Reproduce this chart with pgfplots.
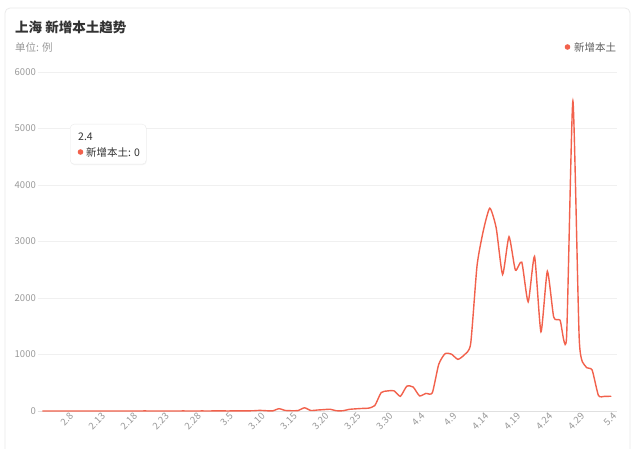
\documentclass[border=0pt]{standalone}
\usepackage{fontspec}
\setmainfont{Noto Sans CJK SC}
\usepackage{pgfplots}
\pgfplotsset{compat=1.18}
\usetikzlibrary{shadows}
\definecolor{linered}{HTML}{F2614C}
\definecolor{txtdark}{HTML}{333333}
\definecolor{txtgray}{HTML}{999999}
\definecolor{gridc}{HTML}{F0F0F0}
\definecolor{cardc}{HTML}{EBEBEB}
\pgfplotstableread{
i v
0 0
1 0
2 0
3 0
4 0
5 0
6 0
7 0
8 0
9 0
10 0
11 0
12 0
13 0
14 0
15 0
16 1
17 0
18 0
19 0
20 0
21 0
22 1
23 0
24 0
25 1
26 0
27 2
28 3
29 0
30 3
31 1
32 3
33 4
34 11
35 5
36 1
37 41
38 9
39 5
40 8
41 57
42 8
43 17
44 24
45 31
46 4
47 4
48 29
49 38
50 45
51 50
52 96
53 326
54 355
55 358
56 260
57 438
58 425
59 268
60 311
61 322
62 824
63 1015
64 1006
65 914
66 994
67 1189
68 2573
69 3200
70 3590
71 3238
72 2417
73 3084
74 2494
75 2634
76 1931
77 2736
78 1401
79 2472
80 1661
81 1606
82 1292
83 5487
84 1249
85 788
86 727
87 274
88 260
89 261
}\datatable
\begin{document}
\begin{tikzpicture}[x=1pt,y=1pt]
\useasboundingbox (0,0) rectangle (640,449);
\fill[white] (0,0) rectangle (640,449);
\begin{scope}
\clip (0,0) rectangle (640,449);
\draw[cardc, rounded corners=5pt, line width=0.8pt] (5,-20) rectangle (630,441);
\end{scope}
\node[anchor=west, inner sep=0pt, text=txtdark, font=\fontsize{13.5}{15}\selectfont\bfseries] at (15,422) {上海 新增本土趋势};
\node[anchor=west, inner sep=0pt, text=txtgray, font=\fontsize{10.5}{12}\selectfont] at (15,402) {单位: 例};
\fill[linered] (567.5,402) circle (2.8);
\node[anchor=west, inner sep=0pt, text=gray!75!black, font=\fontsize{10.5}{12}\selectfont] at (574,402) {新增本土};
\begin{axis}[
  at={(38pt,38pt)}, anchor=south west,
  scale only axis, width=579pt, height=339pt,
  xmin=-0.7, xmax=89.9, ymin=0, ymax=6000,
  axis x line*=bottom, axis y line*=left,
  x axis line style={draw=black!12},
  y axis line style={draw=none},
  ymajorgrids, grid style={gridc, line width=0.6pt},
  ytick={0,1000,...,6000},
  yticklabels={0,1000,2000,3000,4000,5000,6000},
  major tick length=0pt,
  yticklabel style={anchor=east, inner sep=0pt, xshift=-2pt, text=txtgray, font=\fontsize{9.5}{10}\selectfont},
  xtick={4,9,...,89},
  xticklabels={2.8,2.13,2.18,2.23,2.28,3.5,3.10,3.15,3.20,3.25,3.30,4.4,4.9,4.14,4.19,4.24,4.29,5.4},
  xticklabel style={rotate=45, anchor=east, inner sep=0pt, yshift=-5pt, text=txtgray, font=\fontsize{9.5}{10}\selectfont},
  /pgf/number format/assume math mode=true,
  clip=false,
]
\addplot[linered, line width=1.4pt, smooth, tension=0.35, mark=none] table[x=i, y=v] {\datatable};
\end{axis}
\node[draw=black!8, fill=white, rounded corners=4pt, drop shadow={opacity=0.08, shadow xshift=0.5pt, shadow yshift=-1pt}, minimum width=76pt, minimum height=40pt, anchor=north west] at (70,325) {};
\node[anchor=west, inner sep=0pt, text=txtdark, font=\fontsize{10.5}{12}\selectfont] at (78,312) {2.4};
\fill[linered] (80.5,297) circle (2.8);
\node[anchor=west, inner sep=0pt, text=txtdark, font=\fontsize{10.5}{12}\selectfont] at (86,297) {新增本土: 0};
\end{tikzpicture}
\end{document}
